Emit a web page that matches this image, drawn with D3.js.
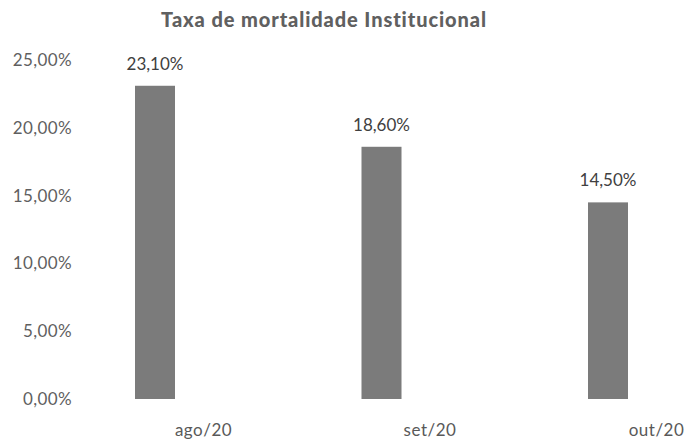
<!DOCTYPE html>
<html>
<head>
<meta charset="utf-8">
<script src="https://cdn.jsdelivr.net/npm/d3@7/dist/d3.min.js"></script>
<style>
  html, body { margin: 0; padding: 0; background: #fff; }
  svg { display: block; }
  text { font-family: Lato, "Open Sans", sans-serif; }
</style>
</head>
<body>
<div id="chart"></div>
<script>
// Monthly institutional mortality rate (%)
const categories = ["ago/20", "set/20", "out/20"];
const values = [23.10, 18.60, 14.50];
const yTicks = [0, 5, 10, 15, 20, 25];
const title = "Taxa de mortalidade Institucional";

const width = 689, height = 445;
const fmt = v => v.toFixed(2).replace(".", ",") + "%";

const svg = d3.select("#chart").append("svg")
  .attr("width", width).attr("height", height);

const x = d3.scalePoint().domain(categories).range([155, 608]);
const y = d3.scaleLinear().domain([0, 25]).range([399, 60]);
const barW = 40;

// Title
svg.append("text")
  .attr("x", 324).attr("y", 27)
  .attr("text-anchor", "middle")
  .attr("font-size", 20).attr("font-weight", 900)
  .attr("letter-spacing", 0.9)
  .attr("fill", "#606060")
  .text(title);

// Y axis (labels only)
const yAxis = svg.append("g")
  .attr("transform", "translate(72,0)")
  .call(d3.axisLeft(y).tickValues(yTicks).tickFormat(fmt).tickSize(0).tickPadding(0));
yAxis.select(".domain").remove();
yAxis.selectAll("text")
  .attr("font-size", 17).attr("fill", "#5f5f5f")
  .attr("letter-spacing", 0.4)
  .style("font-family", "Lato, 'Open Sans', sans-serif");

// Bars
svg.append("g").selectAll("rect")
  .data(values)
  .join("rect")
  .attr("x", (d, i) => x(categories[i]) - barW / 2)
  .attr("width", barW)
  .attr("y", d => y(d))
  .attr("height", d => y(0) - y(d))
  .attr("fill", "#7b7b7b");

// Value labels
svg.append("g").selectAll("text")
  .data(values)
  .join("text")
  .attr("x", (d, i) => x(categories[i]))
  .attr("y", d => y(d) - 16)
  .attr("text-anchor", "middle")
  .attr("font-size", 17).attr("fill", "#404040")
  .text(fmt);

// Category axis
const xAxis = svg.append("g")
  .attr("transform", "translate(48,424)")
  .call(d3.axisBottom(x).tickSize(0).tickPadding(0));
xAxis.select(".domain").remove();
xAxis.selectAll("text")
  .attr("font-size", 17).attr("fill", "#595959")
  .attr("letter-spacing", 0.5)
  .style("font-family", "Lato, 'Open Sans', sans-serif");
</script>
</body>
</html>
